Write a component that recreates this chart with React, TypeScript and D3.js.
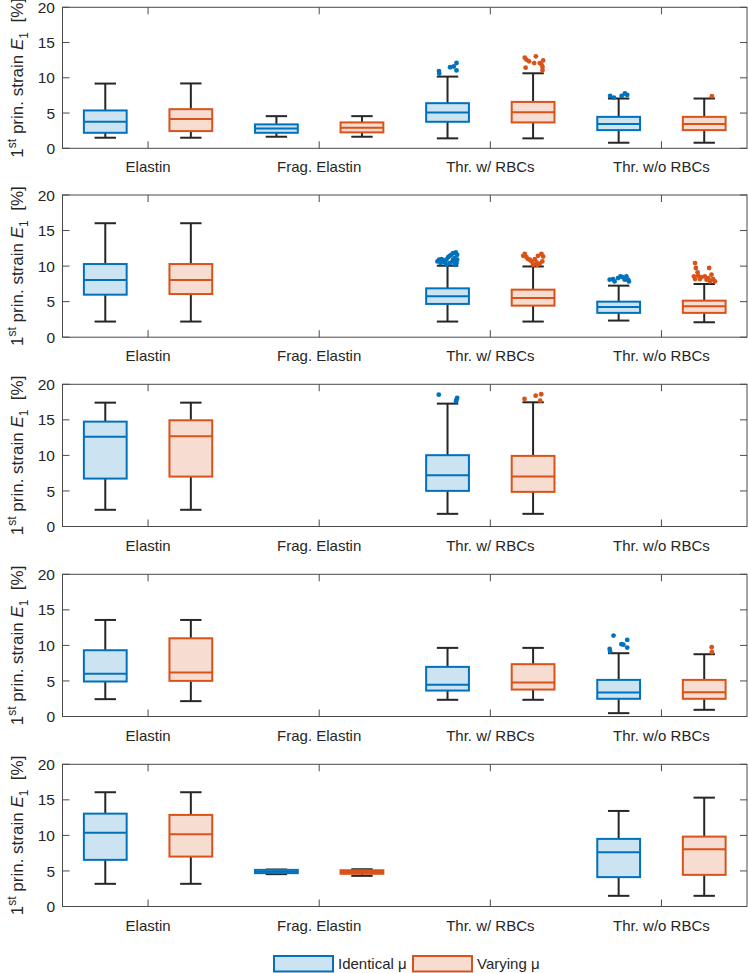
import React from "react";
import * as d3 from "d3";

const CATEGORIES = ["Elastin", "Frag. Elastin", "Thr. w/ RBCs", "Thr. w/o RBCs"];
const Y_TICKS = [0, 5, 10, 15, 20];
const SERIES = ["Identical μ", "Varying μ"];

// [category, lowWhisker, q1, median, q3, highWhisker]
const p1Identical = [[0, 1.5, 2.2, 3.76, 5.37, 9.18], [1, 1.64, 2.2, 2.82, 3.39, 4.56], [2, 1.41, 3.76, 5.08, 6.4, 10.17], [3, 0.79, 2.58, 3.43, 4.46, 7.06]];
const p1Varying = [[0, 1.5, 2.44, 4.14, 5.55, 9.2], [1, 1.64, 2.26, 2.91, 3.67, 4.56], [2, 1.41, 3.67, 5.13, 6.58, 10.64], [3, 0.79, 2.58, 3.43, 4.46, 7.06]];
const p2Identical = [[0, 2.2, 5.98, 8.04, 10.29, 16.03], [2, 2.2, 4.68, 5.75, 6.87, 10.05], [3, 2.34, 3.42, 4.26, 5.0, 7.25]];
const p2Varying = [[0, 2.2, 6.07, 8.04, 10.29, 16.03], [2, 2.2, 4.44, 5.52, 6.69, 9.95], [3, 2.1, 3.42, 4.35, 5.14, 7.48]];
const p3Identical = [[0, 2.35, 6.74, 12.64, 14.75, 17.42], [2, 1.78, 5.01, 7.22, 10.03, 17.28]];
const p3Varying = [[0, 2.35, 7.02, 12.7, 14.94, 17.42], [2, 1.78, 4.87, 7.02, 9.93, 17.47]];
const p4Identical = [[0, 2.44, 4.92, 6.0, 9.32, 13.58], [2, 2.35, 3.65, 4.45, 6.98, 9.65], [3, 0.47, 2.49, 3.37, 5.15, 8.9]];
const p4Varying = [[0, 2.16, 5.01, 6.18, 11.0, 13.58], [2, 2.35, 3.79, 4.78, 7.36, 9.65], [3, 0.94, 2.49, 3.42, 5.15, 8.76]];
const p5Identical = [[0, 3.19, 6.56, 10.39, 13.06, 16.07], [1, 4.55, 4.69, 4.9, 5.15, 5.2], [3, 1.5, 4.13, 7.64, 9.51, 13.44]];
const p5Varying = [[0, 3.19, 7.02, 10.17, 12.88, 16.07], [1, 4.31, 4.6, 4.85, 5.1, 5.24], [3, 1.5, 4.45, 8.06, 9.83, 15.31]];

// outliers: [category, value, jitter (fraction of half box width)]
const p1OutIdentical = [[2, 10.96, -0.4], [2, 10.6, -0.39], [2, 11.5, 0.12], [2, 11.6, 0.29], [2, 12.1, 0.42], [2, 11.05, 0.42], [3, 7.43, -0.4], [3, 7.2, -0.22], [3, 7.43, 0.14], [3, 7.77, 0.29], [3, 7.57, 0.4]];
const p1OutVarying = [[2, 12.85, -0.39], [2, 12.57, -0.31], [2, 12.33, -0.19], [2, 12.09, 0.05], [2, 13.04, 0.13], [2, 12.09, 0.31], [2, 11.9, 0.39], [2, 12.47, 0.47], [2, 11.53, 0.44], [2, 11.06, 0.44], [2, 11.44, -0.35], [3, 7.39, 0.36]];
const p2OutIdentical = [[2, 10.66, -0.47], [2, 10.89, -0.39], [2, 10.98, -0.28], [2, 10.79, -0.2], [2, 10.89, -0.05], [2, 11.26, 0.03], [2, 11.45, 0.11], [2, 11.59, 0.18], [2, 11.82, 0.26], [2, 11.92, 0.39], [2, 11.59, 0.45], [2, 11.12, 0.34], [2, 10.66, 0.23], [2, 10.42, 0.42], [2, 10.19, 0.34], [2, 10.89, 0.45], [2, 10.51, -0.12], [2, 10.42, -0.32], [2, 10.42, 0.11], [2, 10.19, -0.05], [2, 10.89, 0.26],
  [3, 8.09, -0.42], [3, 8.18, -0.26], [3, 8.32, -0.03], [3, 8.55, 0.08], [3, 8.46, 0.17], [3, 8.55, 0.36], [3, 8.09, 0.44], [3, 7.85, 0.48], [3, 7.85, -0.19], [3, 8.09, 0.28]];
const p2OutVarying = [[2, 11.45, -0.46], [2, 11.73, -0.39], [2, 11.26, -0.31], [2, 10.89, -0.15], [2, 10.98, 0.08], [2, 11.45, 0.23], [2, 11.73, 0.39], [2, 11.35, 0.47], [2, 10.51, 0.16], [2, 10.33, 0.31], [2, 10.19, 0.0], [2, 10.66, -0.07], [2, 10.66, 0.43], [2, 10.98, -0.23], [2, 10.19, 0.19],
  [3, 10.43, -0.43], [3, 9.73, -0.39], [3, 9.73, 0.23], [3, 9.12, -0.31], [3, 8.56, -0.48], [3, 8.65, -0.28], [3, 8.46, -0.12], [3, 8.56, 0.03], [3, 8.32, 0.19], [3, 8.79, 0.34], [3, 8.18, 0.42], [3, 7.85, 0.5], [3, 7.85, 0.27], [3, 8.09, 0.39], [3, 8.09, 0.11], [3, 8.18, -0.43], [3, 8.18, -0.2]];
const p3OutIdentical = [[2, 18.54, -0.41], [2, 18.1, 0.45], [2, 17.85, 0.42], [2, 17.6, 0.4]];
const p3OutVarying = [[2, 17.94, -0.4], [2, 18.4, 0.12], [2, 18.6, 0.38], [2, 17.7, 0.33]];
const p4OutIdentical = [[3, 11.38, -0.24], [3, 9.51, -0.42], [3, 9.13, -0.4], [3, 10.17, 0.13], [3, 10.1, 0.22], [3, 10.77, 0.4], [3, 9.69, 0.4]];
const p4OutVarying = [[3, 9.74, 0.35], [3, 9.04, 0.36]];

const COLORS = ["#0072BD", "#D95319"];
const FILLS = ["#cce3f2", "#f7dcd1"];
const WHISKER = "#262626";
const AXIS = "#4a4a4a";
const FONT = "'Liberation Sans', Arial, sans-serif";

const PANELS = [
  { stats: [p1Identical, p1Varying], outs: [p1OutIdentical, p1OutVarying] },
  { stats: [p2Identical, p2Varying], outs: [p2OutIdentical, p2OutVarying] },
  { stats: [p3Identical, p3Varying], outs: [p3OutIdentical, p3OutVarying] },
  { stats: [p4Identical, p4Varying], outs: [p4OutIdentical, p4OutVarying] },
  { stats: [p5Identical, p5Varying], outs: [[], []] },
];

const W = 748;
const H = 973;
const LEFT = 62.5;
const RIGHT = 747;
const TOPS = [7.3, 195, 384.3, 574.3, 764.3];
const PH = 142.2;
const OFFSET = 0.25; // series offset in category units
const BOXW = 0.25; // box width in category units
const TICK = 7;

function Panel({ idx }: { idx: number }) {
  const top = TOPS[idx];
  const bottom = idx === 0 ? 148.3 : top + PH;
  const x = d3.scaleLinear().domain([0.5, 4.5]).range([LEFT, RIGHT]);
  const y = d3.scaleLinear().domain([0, 20]).range([bottom, top]);
  const panel = PANELS[idx];
  const boxPx = x(BOXW) - x(0);
  const cy = (top + bottom) / 2;

  return (
    <g>
      {panel.stats.map((rows, s) =>
        rows.map((r, i) => {
          const [c, lo, q1, med, q3, hi] = r;
          const cx = x(c + 1 + (s === 0 ? -OFFSET : OFFSET));
          return (
            <g key={`b${s}-${i}`}>
              <line x1={cx} x2={cx} y1={y(hi)} y2={y(q3)} stroke={WHISKER} strokeWidth={2} />
              <line x1={cx} x2={cx} y1={y(q1)} y2={y(lo)} stroke={WHISKER} strokeWidth={2} />
              <line x1={cx - boxPx / 4} x2={cx + boxPx / 4} y1={y(hi)} y2={y(hi)} stroke={WHISKER} strokeWidth={2} />
              <line x1={cx - boxPx / 4} x2={cx + boxPx / 4} y1={y(lo)} y2={y(lo)} stroke={WHISKER} strokeWidth={2} />
              <rect x={cx - boxPx / 2} y={y(q3)} width={boxPx} height={y(q1) - y(q3)} fill={FILLS[s]} stroke={COLORS[s]} strokeWidth={2} />
              <line x1={cx - boxPx / 2} x2={cx + boxPx / 2} y1={y(med)} y2={y(med)} stroke={COLORS[s]} strokeWidth={2} />
            </g>
          );
        })
      )}
      {panel.outs.map((rows, s) =>
        rows.map((r, i) => {
          const [c, v, j] = r;
          const cx = x(c + 1 + (s === 0 ? -OFFSET : OFFSET)) + (j * boxPx) / 2;
          return <circle key={`o${s}-${i}`} cx={cx} cy={y(v)} r={2.4} fill={COLORS[s]} />;
        })
      )}
      <rect x={LEFT} y={top} width={RIGHT - LEFT} height={bottom - top} fill="none" stroke={AXIS} strokeWidth={1} />
      {CATEGORIES.map((c, i) => (
        <g key={c}>
          <line x1={x(i + 1)} x2={x(i + 1)} y1={bottom} y2={bottom - TICK} stroke={AXIS} />
          <line x1={x(i + 1)} x2={x(i + 1)} y1={top} y2={top + TICK} stroke={AXIS} />
          <text x={x(i + 1)} y={bottom + 24} textAnchor="middle" fontSize={15} fontFamily={FONT} fill="#262626">
            {c}
          </text>
        </g>
      ))}
      {Y_TICKS.map((t) => (
        <g key={t}>
          <line x1={LEFT} x2={LEFT + TICK} y1={y(t)} y2={y(t)} stroke={AXIS} />
          <line x1={RIGHT} x2={RIGHT - TICK} y1={y(t)} y2={y(t)} stroke={AXIS} />
          <text x={55} y={y(t)} dy="0.36em" textAnchor="end" fontSize={15.5} fontFamily={FONT} fill="#262626">
            {t}
          </text>
        </g>
      ))}
      <text transform={`translate(22.5, ${cy}) rotate(-90)`} textAnchor="middle" fontSize={17} fontFamily={FONT} fill="#262626">
        <tspan>1</tspan>
        <tspan fontSize={12} dy={-7}>st</tspan>
        <tspan dy={7}> prin. strain </tspan>
        <tspan fontStyle="italic">E</tspan>
        <tspan fontSize={12} dy={5}>1</tspan>
        <tspan dy={-5}>{"\u00a0 [%]"}</tspan>
      </text>
    </g>
  );
}

export default function App() {
  return (
    <div style={{ position: "absolute", left: 0, top: 0 }}>
      <svg width={W} height={H} style={{ display: "block", background: "#fff" }}>
        {PANELS.map((_, i) => (
          <Panel key={i} idx={i} />
        ))}
        {SERIES.map((s, i) => {
          const lx = [274, 413][i];
          return (
            <g key={s}>
              <rect x={lx} y={956} width={59} height={15.5} fill={FILLS[i]} stroke={COLORS[i]} strokeWidth={2} />
              <text x={lx + 64} y={969} fontSize={15} fontFamily={FONT} fill="#262626">
                {s}
              </text>
            </g>
          );
        })}
      </svg>
    </div>
  );
}
